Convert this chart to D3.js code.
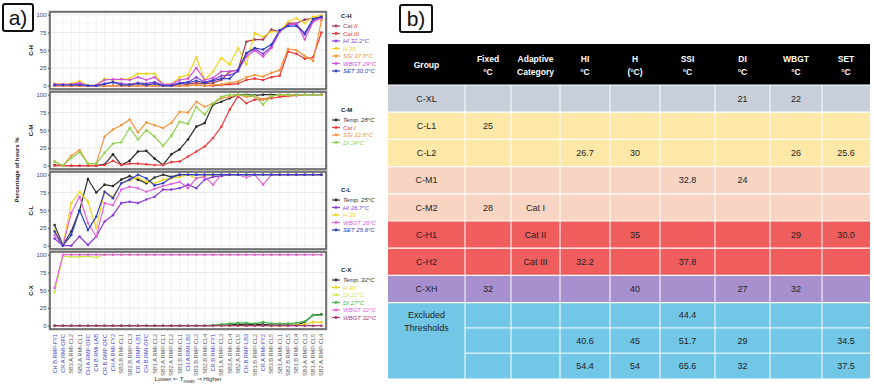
<!DOCTYPE html>
<html>
<head>
<meta charset="utf-8">
<script src="https://cdn.jsdelivr.net/npm/d3@7/dist/d3.min.js"></script>
<style>
  html, body { margin: 0; padding: 0; background: #fff; }
  svg { display: block; font-family: "Liberation Sans", Arial, sans-serif; }
</style>
</head>
<body>
<svg id="fig" width="874" height="386"></svg>
<script>
// ---------- monitored rooms, ordered by mean temperature ----------
const categories = [
  "CH.B.RMP-FY1","CR.A.RMI-OFC","SB3.A.RMI-CL2","SB2.A.RMI-CL1","CH.A.RMP-OFC","CH.B.RMI-LAB",
  "CR.B.RMP-OFC","CH.A.RMI-FY2","SB3.B.RMI-CL1","SB2.B.RMP-CL3","CR.A.RMP-LB1","CH.B.RMI-OFC",
  "SB1.A.RMI-CL2","SB3.A.RMP-CL1","SB2.A.RMP-CL2","SB1.B.RMI-CL1","CH.A.RMI-LB2","SB3.B.RMP-CL2",
  "SB2.B.RMI-CL4","CR.B.RMI-FY1","SB1.A.RMP-CL3","SB3.A.RMI-CL4","SB2.A.RMI-CL5","CH.B.RMP-LB3",
  "SB1.B.RMP-CL2","CR.A.RMI-FY2","SB3.B.RMI-CL5","SB1.A.RMI-CL1","SB2.B.RMP-CL5","SB1.B.RMI-CL4",
  "SB3.A.RMP-CL3","SB1.A.RMP-CL5","SB2.A.RMP-CL4"
];
const yTicks = [0, 25, 50, 75, 100];

// ---------- C-H : percentage of hours above each threshold ----------
const chCatII  = [0,0,0,0,0,0,0,0,0,0,0,0,0,0,0,0,2,4,3,4,8,20,22,62,65,65,79,76,88,88,93,95,97];
const chCatIII = [0,0,0,0,0,0,0,0,0,0,0,0,0,0,0,0,0,1,0,0,1,2,3,8,10,8,12,14,48,45,38,40,75];
const chHI     = [1,1,1,2,0,0,3,5,3,2,4,3,5,1,1,4,5,12,5,8,14,15,20,45,52,45,55,78,86,87,72,92,97];
const chH      = [3,2,3,7,0,1,10,8,9,10,17,17,17,2,2,12,15,40,8,20,39,30,53,30,74,69,76,76,90,95,88,97,99];
const chSSI    = [0,0,0,0,0,0,0,0,0,0,0,0,0,0,0,0,0,1,0,1,2,4,6,12,15,13,18,22,52,50,42,35,92];
const chWBGT   = [2,2,2,4,0,1,8,9,9,8,12,8,12,2,2,8,10,25,8,11,20,20,22,41,50,41,53,76,85,88,65,90,95];
const chSET    = [1,1,1,1,0,0,2,5,1,1,3,1,3,0,0,3,4,7,4,7,10,10,22,46,53,51,58,78,84,84,74,94,97];

// ---------- C-M ----------
const cmTemp = [1,0,0,0,0,0,2,16,1,7,20,21,10,1,16,23,37,55,60,86,90,95,100,100,99,100,100,100,100,100,100,100,100];
const cmCatI = [0,0,0,0,0,0,1,7,1,3,3,2,1,1,5,6,13,20,27,39,55,79,98,88,93,93,95,97,98,99,100,100,100];
const cmSSI  = [6,0,14,22,3,3,41,51,57,65,47,61,57,53,60,76,75,90,83,88,95,97,100,97,98,93,98,100,99,100,100,100,100];
const cmDI   = [6,0,11,19,3,3,18,31,33,53,37,50,41,28,42,62,59,83,72,88,97,100,100,99,98,86,98,100,100,100,100,100,100];

// ---------- C-L ----------
const clTemp = [29,1,20,50,94,75,86,84,93,98,93,88,96,100,97,100,100,100,100,100,100,100,100,100,100,100,100,100,100,100,100,100,100];
const clHI   = [10,0,0,13,1,13,34,43,60,62,60,65,69,79,79,81,86,81,93,97,98,100,100,100,100,100,100,100,100,100,100,100,100];
const clH    = [22,0,60,76,62,25,76,69,88,92,96,90,88,93,95,97,100,95,98,100,100,100,100,100,100,100,100,100,100,100,100,100,100];
const clWBGT = [15,0,46,69,32,13,60,57,79,83,81,76,80,84,87,90,81,95,97,86,100,100,100,96,100,86,100,100,100,100,100,100,100];
const clSET  = [20,0,15,50,22,41,76,67,88,93,100,95,85,88,96,100,100,100,100,100,100,100,100,100,100,100,100,100,100,100,100,100,100];

// ---------- C-X ----------
const cxTemp   = [0,0,0,0,0,0,0,0,0,0,0,0,0,0,0,0,0,0,0,0,1,1,2,2,2,2,1,1,1,1,5,15,16];
const cxH      = [0,0,0,0,0,0,0,0,0,0,0,0,0,0,0,0,0,0,0,0,0,0,0,0,0,0,0,0,0,1,2,5,5];
const cxDI21   = [47,98,97,97,98,96,100,100,100,100,100,100,100,100,100,100,100,100,100,100,100,100,100,100,100,100,100,100,100,100,100,100,100];
const cxDI27   = [0,0,0,0,0,0,0,0,0,0,0,0,0,0,0,0,0,0,0,1,2,3,4,4,3,5,3,3,3,4,6,15,15];
const cxWBGT22 = [53,100,100,100,100,100,100,100,100,100,100,100,100,100,100,100,100,100,100,100,100,100,100,100,100,100,100,100,100,100,100,100,100];
const cxWBGT32 = [0,0,0,0,0,0,0,0,0,0,0,0,0,0,0,0,0,0,0,0,0,0,0,0,0,0,0,0,0,0,0,0,0];

// ---------- threshold table ----------
const tableHeaders = [["Group"],["Fixed","°C"],["Adaptive","Category"],["HI","°C"],["H","(°C)"],["SSI","°C"],["DI","°C"],["WBGT","°C"],["SET","°C"]];
const groups      = ["C-XL","C-L1","C-L2","C-M1","C-M2","C-H1","C-H2","C-XH"];
const fixedC      = ["","25","","","28","","","32"];
const adaptiveCat = ["","","","","Cat I","Cat II","Cat III",""];
const hiC         = ["","","26.7","","","","32.2",""];
const hC          = ["","","30","","","35","","40"];
const ssiC        = ["","","","32.8","","","37.8",""];
const diC         = ["21","","","24","","","","27"];
const wbgtC       = ["22","","26","","","29","","32"];
const setC        = ["","","25.6","","","30.0","",""];
const excludedLabel = ["Excluded","Thresholds"];
const exclHI   = ["","40.6","54.4"];
const exclH    = ["","45","54"];
const exclSSI  = ["44.4","51.7","65.6"];
const exclDI   = ["","29","32"];
const exclSET  = ["","34.5","37.5"];

// ---------- palettes ----------
const C = {
  temp: "#2b2b2b", catI: "#ee3b3b", catII: "#a93a4e", catIII: "#ec3434",
  purple: "#8b3bd6", yellow: "#f2d31c", orange: "#f4953a", magenta: "#d24fd8",
  pink: "#e264dc", blue: "#2f3fc0", green24: "#8fd24f", di21: "#cfe84a",
  di27: "#45b447", wbgt32: "#a33a7a"
};
const rowFills = ["#c8cfdb","#fde8a8","#fde8a8","#f8d5c2","#f8d5c2","#ef5d5d","#ef5d5d","#a88fce"];
const exclFill = "#72c7e6";

const panels = [
  { name: "C-H", series: [
    { label: "Cat.II", color: C.catII, values: chCatII },
    { label: "Cat.III", color: C.catIII, values: chCatIII },
    { label: "HI 32.2°C", color: C.purple, values: chHI },
    { label: "H 35", color: C.yellow, values: chH },
    { label: "SSI 37.8°C", color: C.orange, values: chSSI },
    { label: "WBGT 29°C", color: C.magenta, values: chWBGT },
    { label: "SET 30.0°C", color: C.blue, values: chSET } ] },
  { name: "C-M", series: [
    { label: "Temp. 28°C", color: C.temp, values: cmTemp },
    { label: "Cat I", color: C.catI, values: cmCatI },
    { label: "SSI 32.8°C", color: C.orange, values: cmSSI },
    { label: "DI 24°C", color: C.green24, values: cmDI } ] },
  { name: "C-L", series: [
    { label: "Temp. 25°C", color: C.temp, values: clTemp },
    { label: "HI 26.7°C", color: C.purple, values: clHI },
    { label: "H 30", color: C.yellow, values: clH },
    { label: "WBGT 26°C", color: C.pink, values: clWBGT },
    { label: "SET 25.6°C", color: C.blue, values: clSET } ] },
  { name: "C-X", series: [
    { label: "Temp. 32°C", color: C.temp, values: cxTemp },
    { label: "H 40", color: C.yellow, values: cxH },
    { label: "DI 21°C", color: C.di21, values: cxDI21 },
    { label: "DI 27°C", color: C.di27, values: cxDI27 },
    { label: "WBGT 22°C", color: C.pink, values: cxWBGT22 },
    { label: "WBGT 32°C", color: C.wbgt32, values: cxWBGT32 } ] }
];

const svg = d3.select("#fig");

// ---------- panel label boxes ----------
function tagBox(x, y, w, h, txt) {
  svg.append("rect").attr("x", x).attr("y", y).attr("width", w).attr("height", h)
    .attr("rx", 2).attr("fill", "#fff").attr("stroke", "#111").attr("stroke-width", 2);
  svg.append("text").attr("x", x + w / 2).attr("y", y + h / 2 + 7.5)
    .attr("text-anchor", "middle").attr("font-size", 21).attr("fill", "#111").text(txt);
}
tagBox(3, 4, 30, 27, "a)");
tagBox(400, 5, 32, 27, "b)");

// ---------- line panels ----------
const left = 50, right = 326, panelH = 77, panelGap = 3, top0 = 12;
const x = d3.scalePoint().domain(categories).range([left, right]).padding(0.55);

svg.append("rect").attr("x", left - 1.5).attr("y", top0 - 1.5)
  .attr("width", right - left + 3).attr("height", 4 * panelH + 3 * panelGap + 3)
  .attr("fill", "#bdbdbd");

panels.forEach((p, pi) => {
  const top = top0 + pi * (panelH + panelGap);
  const y = d3.scaleLinear().domain([0, 100]).range([top + 73.7, top + 2.7]);
  const g = svg.append("g");

  g.append("rect").attr("x", left).attr("y", top).attr("width", right - left).attr("height", panelH)
    .attr("fill", "#fff");

  // minor + major horizontal grid
  d3.range(12.5, 100, 25).forEach(v => g.append("line")
    .attr("x1", left).attr("x2", right).attr("y1", y(v)).attr("y2", y(v))
    .attr("stroke", "#f2f2f2").attr("stroke-width", 0.5));
  yTicks.forEach(v => g.append("line")
    .attr("x1", left).attr("x2", right).attr("y1", y(v)).attr("y2", y(v))
    .attr("stroke", "#e3e3e3").attr("stroke-width", 0.7));
  categories.forEach(c => g.append("line")
    .attr("x1", x(c)).attr("x2", x(c)).attr("y1", top).attr("y2", top + panelH)
    .attr("stroke", "#e8e8e8").attr("stroke-width", 0.6));

  // y axis
  const ax = g.append("g").attr("transform", `translate(${left},0)`)
    .call(d3.axisLeft(y).tickValues(yTicks).tickSize(2).tickPadding(1.5));
  ax.select(".domain").remove();
  ax.selectAll("line").attr("stroke", "#555");
  ax.selectAll("text").attr("font-size", 6).attr("fill", "#444")
    .attr("font-family", "Liberation Sans, Arial, sans-serif");

  // panel label on the left
  svg.append("text").attr("transform", `translate(33,${top + panelH / 2}) rotate(-90)`)
    .attr("text-anchor", "middle").attr("font-size", 6).attr("font-weight", "bold")
    .attr("fill", "#222").text(p.name);

  // series
  const line = d3.line().x((d, i) => x(categories[i])).y(d => y(d));
  p.series.forEach(s => {
    g.append("path").datum(s.values).attr("d", line)
      .attr("fill", "none").attr("stroke", s.color).attr("stroke-width", 1.2)
      .attr("stroke-linejoin", "round");
    g.selectAll(null).data(s.values).enter().append("circle")
      .attr("cx", (d, i) => x(categories[i])).attr("cy", d => y(d)).attr("r", 1.3)
      .attr("fill", s.color);
  });

  // frame
  g.append("rect").attr("x", left).attr("y", top).attr("width", right - left).attr("height", panelH)
    .attr("fill", "none").attr("stroke", "#5a5a5a").attr("stroke-width", 1.5);

  // legend
  const legTop = top + 6;
  const lg = svg.append("g").attr("transform", `translate(332,${legTop})`);
  const titleY = pi === 0 ? 0 : 14;
  lg.append("text").attr("x", 9).attr("y", titleY).attr("font-size", 6).attr("font-weight", "bold")
    .attr("fill", "#222").text(p.name);
  p.series.forEach((s, si) => {
    const yy = titleY + 10 + si * 7.5;
    lg.append("line").attr("x1", 0).attr("x2", 8).attr("y1", yy - 2).attr("y2", yy - 2)
      .attr("stroke", s.color).attr("stroke-width", 1.2);
    lg.append("circle").attr("cx", 4).attr("cy", yy - 2).attr("r", 1.4).attr("fill", s.color);
    lg.append("text").attr("x", 11).attr("y", yy).attr("font-size", 6).attr("font-style", "italic")
      .attr("fill", s.color).text(s.label);
  });
});

// x category labels
const xAxisY = top0 + 4 * panelH + 3 * panelGap + 3;
categories.forEach(c => {
  svg.append("text").attr("transform", `translate(${x(c) + 2},${xAxisY + 2}) rotate(-90)`)
    .attr("text-anchor", "end").attr("font-size", 5.6)
    .attr("fill", c.startsWith("C") ? "#3d3dc8" : "#555").text(c);
});

// x title
const xt = svg.append("text").attr("x", (left + right) / 2).attr("y", 381)
  .attr("text-anchor", "middle").attr("font-size", 6.2).attr("fill", "#333");
xt.append("tspan").text("Lower ⇐ T");
xt.append("tspan").attr("font-size", 4.5).attr("dy", 1.5).text("mean");
xt.append("tspan").attr("dy", -1.5).text(" ⇒ Higher");

// y title
svg.append("text").attr("transform", `translate(19,170) rotate(-90)`)
  .attr("text-anchor", "middle").attr("font-size", 6).attr("font-weight", "bold")
  .attr("fill", "#222").text("Percentage of hours %");

// ---------- table ----------
const colX = [388, 465, 511, 560, 610, 660, 715, 770, 822, 870];
const headTop = 44, headBot = 85, rowH = 27.2;
const colMid = i => (colX[i] + colX[i + 1]) / 2;
const tg = svg.append("g").attr("font-family", "Liberation Sans, Arial, sans-serif");

tg.append("rect").attr("x", colX[0]).attr("y", headTop).attr("width", colX[9] - colX[0])
  .attr("height", headBot - headTop).attr("fill", "#000");
tableHeaders.forEach((h, i) => {
  const t = tg.append("text").attr("x", colMid(i)).attr("text-anchor", "middle")
    .attr("font-size", 8.5).attr("font-weight", "bold").attr("fill", "#fff");
  if (h.length === 1) t.attr("y", (headTop + headBot) / 2 + 3).text(h[0]);
  else {
    t.attr("y", (headTop + headBot) / 2 - 3).text(h[0]);
    tg.append("text").attr("x", colMid(i)).attr("y", (headTop + headBot) / 2 + 10)
      .attr("text-anchor", "middle").attr("font-size", 8.5).attr("font-weight", "bold")
      .attr("fill", "#fff").text(h[1]);
  }
});

const bodyCols = [groups, fixedC, adaptiveCat, hiC, hC, ssiC, diC, wbgtC, setC];
groups.forEach((gname, r) => {
  const ry = headBot + r * rowH;
  tg.append("rect").attr("x", colX[0]).attr("y", ry).attr("width", colX[9] - colX[0])
    .attr("height", rowH).attr("fill", rowFills[r]);
  bodyCols.forEach((col, ci) => {
    if (col[r]) tg.append("text").attr("x", colMid(ci)).attr("y", ry + rowH / 2 + 3.2)
      .attr("text-anchor", "middle").attr("font-size", 9).attr("fill", "#222").text(col[r]);
  });
});

const exTop = headBot + groups.length * rowH, exRowH = 25.3;
tg.append("rect").attr("x", colX[0]).attr("y", exTop).attr("width", colX[9] - colX[0])
  .attr("height", 3 * exRowH).attr("fill", exclFill);
excludedLabel.forEach((t, i) => tg.append("text").attr("x", colMid(0)).attr("y", exTop + 15 + i * 13)
  .attr("text-anchor", "middle").attr("font-size", 9).attr("fill", "#222").text(t));
const exCols = [[3, exclHI], [4, exclH], [5, exclSSI], [6, exclDI], [8, exclSET]];
for (let r = 0; r < 3; r++) {
  exCols.forEach(([ci, col]) => {
    if (col[r]) tg.append("text").attr("x", colMid(ci)).attr("y", exTop + r * exRowH + exRowH / 2 + 3.2)
      .attr("text-anchor", "middle").attr("font-size", 9).attr("fill", "#222").text(col[r]);
  });
}

// white cell borders
const tBottom = exTop + 3 * exRowH;
colX.slice(1, 9).forEach(cx => tg.append("line").attr("x1", cx).attr("x2", cx)
  .attr("y1", headBot).attr("y2", tBottom).attr("stroke", "#fff").attr("stroke-width", 1));
d3.range(groups.length + 1).forEach(r => tg.append("line").attr("x1", colX[0]).attr("x2", colX[9])
  .attr("y1", headBot + r * rowH).attr("y2", headBot + r * rowH).attr("stroke", "#fff").attr("stroke-width", 1.2));
[1, 2].forEach(r => tg.append("line").attr("x1", colX[1]).attr("x2", colX[9])
  .attr("y1", exTop + r * exRowH).attr("y2", exTop + r * exRowH).attr("stroke", "#fff").attr("stroke-width", 1));
</script>
</body>
</html>
